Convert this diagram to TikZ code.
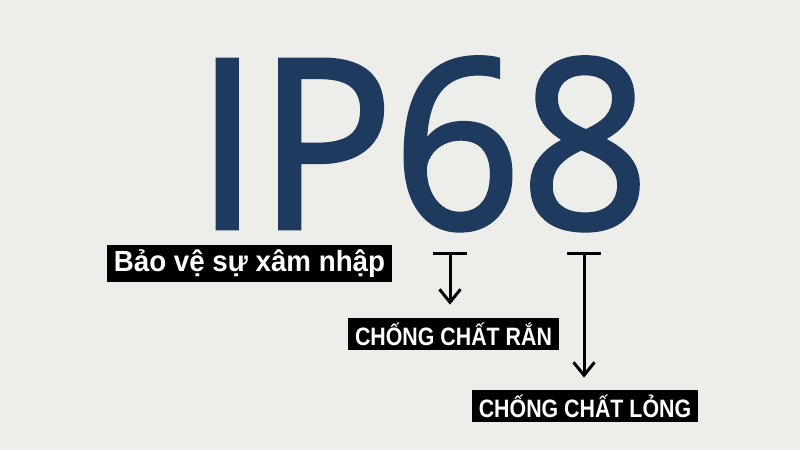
\documentclass[tikz,border=0pt]{standalone}
\usepackage{fontspec}
\usepackage{tikz}
\usetikzlibrary{arrows.meta}
\usepackage{xcolor}

\newfontfamily\bigfont[FakeStretch=0.95, FakeBold=2]{Open Sans}
\newfontfamily\tagfont[FakeStretch=0.85]{Liberation Sans}
\newfontfamily\wordfont[FakeStretch=0.95]{Liberation Sans}
\definecolor{ipblue}{RGB}{31,58,95}
\definecolor{paper}{RGB}{237,237,233}

\begin{document}
\begin{tikzpicture}[
  tagbox/.style={fill=black, text=white, inner xsep=4pt, inner ysep=0pt},
  pointer/.style={line width=1.7pt, {Bar[width=6.8mm]}-{Straight Barb[length=2.6mm, width=4.2mm]}}
]
% Nen
\useasboundingbox (0,0) rectangle (16,9);
\fill[paper] (0,0) rectangle (16,9);

% Chu IP68
\node[anchor=base, inner sep=0pt, text=ipblue, font=\bigfont\fontsize{134}{134}\selectfont] (ip) at (8.45,4.44) {IP68};

% Nhan
\node[tagbox, minimum height=0.74cm, font=\wordfont\bfseries\fontsize{16.6}{18}\selectfont] (protect) at (4.99,3.73) {Bảo vệ sự xâm nhập};
\node[tagbox, minimum height=0.64cm, font=\tagfont\bfseries\fontsize{14.3}{16}\selectfont] (solid) at (9.07,2.32) {CHỐNG CHẤT RẮN};
\node[tagbox, minimum height=0.64cm, font=\tagfont\bfseries\fontsize{14.3}{16}\selectfont] (liquid) at (11.70,0.88) {CHỐNG CHẤT LỎNG};

% Mui ten
\coordinate (t6) at (9.00,3.96);
\coordinate (t8) at (11.68,3.96);
\draw[pointer] (t6) -- ([yshift=2.6mm]t6 |- solid.north);
\draw[pointer] (t8) -- ([yshift=2.4mm]t8 |- liquid.north);
\end{tikzpicture}
\end{document}
